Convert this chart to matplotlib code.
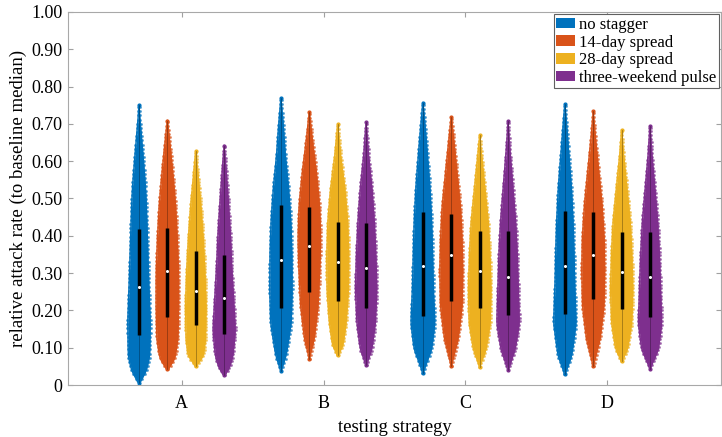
import numpy as np
import matplotlib.pyplot as plt
from matplotlib.patches import Patch
from matplotlib.colors import to_rgb

plt.rcParams['font.family'] = ['Liberation Serif', 'DejaVu Serif']
plt.rcParams['font.size'] = 12

groups = ['A', 'B', 'C', 'D']
series = ['no stagger', '14-day spread', '28-day spread', 'three-weekend pulse']
colors = ['#0072BD', '#D95319', '#EDB120', '#7E2F8E']

# summary stats, rows = group, cols = series
vmin = [[0.006, 0.042, 0.051, 0.027],
        [0.038, 0.071, 0.080, 0.053],
        [0.033, 0.051, 0.049, 0.040],
        [0.029, 0.050, 0.064, 0.044]]
vmax = [[0.751, 0.709, 0.627, 0.642],
        [0.769, 0.732, 0.700, 0.705],
        [0.757, 0.719, 0.669, 0.708],
        [0.754, 0.734, 0.684, 0.695]]
q1 = [[0.134, 0.183, 0.162, 0.138],
      [0.206, 0.250, 0.226, 0.207],
      [0.186, 0.225, 0.206, 0.188],
      [0.190, 0.230, 0.204, 0.182]]
med = [[0.263, 0.306, 0.253, 0.232],
       [0.334, 0.373, 0.331, 0.314],
       [0.318, 0.349, 0.306, 0.290],
       [0.320, 0.349, 0.304, 0.289]]
q3 = [[0.417, 0.421, 0.359, 0.349],
      [0.482, 0.477, 0.436, 0.435],
      [0.463, 0.458, 0.413, 0.412],
      [0.467, 0.463, 0.411, 0.411]]

# violin outline: levels and half-widths (pixels)
prof_y = [
    [[0.032, 0.076, 0.166, 0.255, 0.344, 0.417, 0.523, 0.612, 0.70],
     [0.067, 0.121, 0.21, 0.30, 0.389, 0.478, 0.567, 0.657],
     [0.076, 0.121, 0.21, 0.30, 0.389, 0.478, 0.567],
     [0.040, 0.076, 0.147, 0.21, 0.30, 0.389, 0.478, 0.567]],
    [[0.076, 0.165, 0.255, 0.344, 0.433, 0.523, 0.612, 0.701],
     [0.121, 0.21, 0.30, 0.389, 0.478, 0.567, 0.657],
     [0.103, 0.165, 0.255, 0.344, 0.433, 0.523, 0.612],
     [0.094, 0.165, 0.255, 0.344, 0.433, 0.523, 0.612]],
    [[0.094, 0.165, 0.255, 0.344, 0.433, 0.523, 0.612, 0.701],
     [0.121, 0.21, 0.30, 0.389, 0.478, 0.567, 0.657],
     [0.094, 0.165, 0.255, 0.344, 0.433, 0.523, 0.612],
     [0.094, 0.165, 0.255, 0.344, 0.433, 0.523, 0.612]],
    [[0.076, 0.165, 0.255, 0.344, 0.433, 0.523, 0.612, 0.701],
     [0.121, 0.21, 0.30, 0.389, 0.478, 0.567, 0.657],
     [0.094, 0.165, 0.255, 0.344, 0.433, 0.523, 0.612],
     [0.094, 0.165, 0.255, 0.344, 0.433, 0.523, 0.612]],
]
prof_w = [
    [[6.7, 10.7, 11.3, 10.0, 9.0, 8.3, 6.7, 4.2, 1.3],
     [7.2, 10.5, 11.3, 11.2, 10.0, 8.3, 5.5, 2.2],
     [7.5, 9.7, 10.3, 9.2, 7.5, 5.2, 2.0],
     [4.5, 8.7, 11.2, 9.8, 7.8, 6.5, 4.5, 2.2]],
    [[5.0, 10.3, 11.2, 11.0, 10.0, 7.8, 4.5, 2.2],
     [4.7, 8.7, 10.3, 11.3, 10.3, 7.2, 3.0],
     [5.0, 8.3, 10.7, 11.0, 10.0, 7.3, 3.0],
     [5.7, 9.2, 10.7, 9.8, 8.3, 6.0, 2.5]],
    [[8.7, 12.0, 10.5, 9.8, 8.8, 7.2, 4.7, 2.0],
     [6.7, 10.8, 11.5, 10.8, 9.2, 5.8, 2.5],
     [6.2, 10.5, 11.3, 10.3, 8.7, 5.3, 2.0],
     [7.0, 11.3, 10.3, 9.3, 7.7, 5.0, 2.2]],
    [[6.7, 11.3, 10.0, 9.3, 8.3, 6.7, 4.2, 1.7],
     [6.7, 10.7, 11.5, 11.0, 9.0, 5.7, 2.3],
     [5.8, 10.0, 11.2, 10.3, 8.7, 5.5, 2.0],
     [8.3, 11.7, 10.5, 9.5, 7.8, 5.0, 2.0]],
]

px_per_unit = 142.0
offsets = [-0.3, -0.1, 0.1, 0.3]

fig = plt.figure(figsize=(7.22, 4.37), dpi=100)
ax = fig.add_axes([68 / 722, 52 / 437, 653 / 722, 373 / 437])

for g in range(4):
    for s in range(4):
        x0 = g + 1 + offsets[s]
        lo, hi = vmin[g][s], vmax[g][s]
        py = np.concatenate([[lo], prof_y[g][s], [hi]])
        pw = np.concatenate([[0.0], prof_w[g][s], [0.0]]) / px_per_unit
        yy = np.linspace(lo, hi, 400)
        ww = np.interp(yy, py, pw)
        k = np.hanning(31)
        k /= k.sum()
        ww = np.convolve(np.pad(ww, 15, mode='edge'), k, mode='valid')
        ww[0] = ww[-1] = 0
        c = colors[s]
        dark = tuple(v * 0.6 for v in to_rgb(c))
        ax.fill_betweenx(yy, x0 - ww, x0 + ww, color=c, lw=0, zorder=2)
        ax.plot(x0 - ww, yy, color=c, lw=1.0, zorder=2)
        ax.plot(x0 + ww, yy, color=c, lw=1.0, zorder=2)
        idx = np.arange(0, 400, 6)
        ax.plot(np.r_[x0 - ww[idx] - 0.003, x0 + ww[idx] + 0.003],
                np.r_[yy[idx], yy[idx]], '.', color=c, ms=2.3, alpha=0.55, zorder=2)
        ax.plot([x0, x0], [lo, hi], '.', color=c, ms=4, zorder=2)
        ax.plot([x0, x0], [lo, hi], color=dark, lw=0.5, zorder=3)
        ax.plot([x0, x0], [q1[g][s], q3[g][s]], color='black', lw=2.5,
                solid_capstyle='butt', zorder=4)
        ax.plot(x0, med[g][s], 'o', color='white', ms=2.2, mew=0, zorder=5)

ax.set_xlim(0.2, 4.8)
ax.set_ylim(0, 1)
ax.set_xticks([1, 2, 3, 4])
ax.set_xticklabels(groups)
yt = np.arange(0, 1.01, 0.1)
ax.set_yticks(yt)
ax.set_yticklabels(['0'] + ['%.2f' % v for v in yt[1:]])
ax.tick_params(direction='in', length=3.5, width=0.8, color='#a0a0a0',
               top=True, right=True, labelsize=13)
ax.tick_params(axis='x', pad=7)
ax.tick_params(axis='y', pad=4)
for sp in ax.spines.values():
    sp.set_color('#a8a8a8')
    sp.set_linewidth(0.8)

ax.set_xlabel('testing strategy', fontsize=13.5, labelpad=5)
ax.set_ylabel('relative attack rate (to baseline median)', fontsize=13.5, labelpad=3)

handles = [Patch(facecolor=c, edgecolor='none', label=l) for c, l in zip(colors, series)]
leg = ax.legend(handles=handles, loc='upper right', fontsize=12, fancybox=False,
                framealpha=1, edgecolor='#606060', handlelength=1.1, handleheight=0.6,
                handletextpad=0.25, labelspacing=0.1, borderpad=0.15, borderaxespad=0.15)
leg.get_frame().set_linewidth(0.8)

fig.savefig('out.png', dpi=100)
